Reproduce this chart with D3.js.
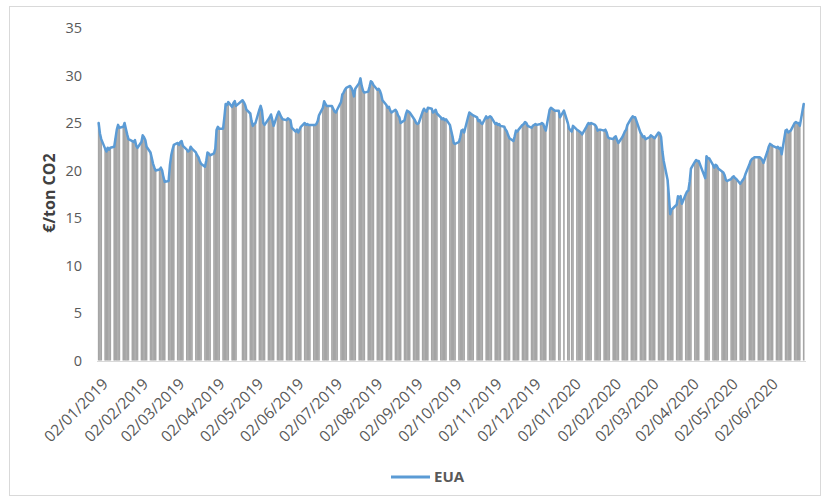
<!DOCTYPE html>
<html>
<head>
<meta charset="utf-8">
<script src="https://cdn.jsdelivr.net/npm/d3@7"></script>
<style>
  body { margin: 0; background: #fff; }
  svg { display: block; }
  text { font-family: "Open Sans", "Liberation Sans", sans-serif; }
</style>
</head>
<body>
<svg id="chart" width="828" height="502"></svg>
<script>
// ---- data ----
const seriesName = "EUA";
const yTitle = "€/ton CO2";
const startDate = "2019-01-02";
const endDate = "2020-06-29";
const yTicks = [0, 5, 10, 15, 20, 25, 30, 35];
// one value per weekday (Mon-Fri) from startDate to endDate; null = market holiday
const prices = [
  25.0, 23.9, 23.3,                 // 2-4 Jan 2019
  22.3, 22.0, 22.4, 22.2, 22.4,     // 7 Jan
  22.5, 23.4, 24.3, 24.8, 24.5,     // 14 Jan
  24.6, 25.0, 24.4, 23.8, 23.3,     // 21 Jan
  23.1, 23.0, 23.2, 22.6, 22.4,     // 28 Jan
  23.0, 23.7, 23.5, 23.2, 22.5,     // 4 Feb
  21.9, 21.3, 20.7, 20.3, 20.0,     // 11 Feb
  20.1, 20.3, 20.0, 19.3, 18.8,     // 18 Feb
  18.9, 20.6, 21.6, 22.2, 22.7,     // 25 Feb
  22.9, 22.7, 23.0, 23.1, 22.6,     // 4 Mar
  22.2, 22.0, 22.1, 22.5, 22.3,     // 11 Mar
  21.9, 21.6, 21.4, 21.0, 20.7,     // 18 Mar
  20.4, 21.0, 21.9, 21.8, 21.6,     // 25 Mar
  21.8, 22.3, 24.3, 24.6, 24.4,     // 1 Apr
  24.4, 25.6, 27.0, 26.9, 27.2,     // 8 Apr
  26.7, 27.1, 27.3, 26.8, null,     // 15 Apr
  null, 27.4, 27.2, 26.9, 26.4,     // 22 Apr
  26.0, 25.2, 24.7, 24.9, 25.0,     // 29 Apr
  26.4, 26.8, 26.3, 25.0, 24.8,     // 6 May
  25.4, 25.6, 25.9, 25.3, 24.7,     // 13 May
  25.9, 26.2, 25.9, 25.6, 25.4,     // 20 May
  25.3, 25.5, 25.4, 25.3, 24.5,     // 27 May
  24.1, 24.3, 24.0, 24.3, 24.6,     // 3 Jun
  25.0, 24.8, 24.9, 24.8, 24.8,     // 10 Jun
  24.8, 24.8, 24.9, 25.2, 25.8,     // 17 Jun
  26.6, 27.3, 27.0, 26.8, 26.8,     // 24 Jun
  26.8, 26.5, 26.2, 26.1, 26.4,     // 1 Jul
  27.2, 28.0, 28.2, 28.5, 28.7,     // 8 Jul
  28.9, 28.7, 28.4, 27.8, 28.6,     // 15 Jul
  29.2, 29.7, 28.9, 28.4, 28.2,     // 22 Jul
  28.3, 28.8, 29.4, 29.3, 29.0,     // 29 Jul
  28.5, 28.6, 28.4, 28.0, 27.4,     // 5 Aug
  26.9, 26.6, 26.7, 26.3, 26.1,     // 12 Aug
  26.4, 26.2, 25.8, 25.6, 25.0,     // 19 Aug
  25.3, 25.9, 26.3, 26.2, 26.1,     // 26 Aug
  25.5, 25.3, 25.0, 24.9, 25.0,     // 2 Sep
  26.2, 26.5, 26.3, 26.2, 26.6,     // 9 Sep
  26.5, 26.1, 26.2, 26.4, 26.0,     // 16 Sep
  25.6, 25.4, 25.5, 25.3, 25.4,     // 23 Sep
  24.8, 24.2, 23.6, 22.9, 22.8,     // 30 Sep
  23.0, 23.5, 24.2, 24.3, 24.0,     // 7 Oct
  25.6, 26.1, 26.0, 25.9, 25.8,     // 14 Oct
  25.6, 25.2, 25.3, 25.0, 24.9,     // 21 Oct
  25.7, 25.5, 25.6, 25.7, 25.6,     // 28 Oct
  24.9, 25.0, 24.8, 24.9, 24.7,     // 4 Nov
  24.6, 24.3, 24.1, 23.7, 23.4,     // 11 Nov
  23.1, 23.6, 24.2, 24.1, 24.3,     // 18 Nov
  24.8, 24.9, 25.1, 25.0, 24.7,     // 25 Nov
  24.5, 24.7, 24.8, 24.9, 24.8,     // 2 Dec
  24.9, 25.0, 24.9, 24.5, 24.2,     // 9 Dec
  26.4, 26.6, 26.5, 26.4, 26.3,     // 16 Dec
  26.3, 25.6, null, null, 26.3,     // 23 Dec
  25.0, 24.4, null, 24.1, 24.7,     // 30 Dec
  24.3, 24.2, 24.1, 24.0, 23.8,     // 6 Jan 2020
  24.5, 24.8, 25.0, 24.9, 25.0,     // 13 Jan
  24.8, 24.6, 24.2, 24.3, 24.3,     // 20 Jan
  24.2, 24.3, 24.0, 23.5, 23.4,     // 27 Jan
  23.3, 23.5, 23.6, 23.2, 22.9,     // 3 Feb
  23.5, 23.8, 24.1, 24.3, 24.8,     // 10 Feb
  25.5, 25.7, 25.6, 25.6, 25.2,     // 17 Feb
  24.0, 23.8, 23.5, 23.6, 23.3,     // 24 Feb
  23.5, 23.7, 23.6, 23.5, 23.4,     // 2 Mar
  24.0, 23.9, 23.5, 22.0, 21.0,     // 9 Mar
  19.0, 17.3, 15.4, 15.9, 16.0,     // 16 Mar
  16.4, 17.3, 17.1, 17.3, 16.5,     // 23 Mar
  17.5, 17.8, 17.9, 18.8, 20.2,     // 30 Mar
  20.9, 21.1, 21.0, 21.0, null,     // 6 Apr
  null, 19.2, 21.5, 21.3, 21.3,     // 13 Apr
  20.6, 20.3, 20.6, 20.5, 20.2,     // 20 Apr
  19.9, 19.8, 19.5, 19.0, 18.9,     // 27 Apr
  19.1, 19.3, 19.4, 19.2, 19.1,     // 4 May
  18.6, 18.8, 19.0, 19.2, 19.6,     // 11 May
  20.6, 21.0, 21.2, 21.3, 21.4,     // 18 May
  21.4, 21.4, 21.3, 21.1, 20.8,     // 25 May
  22.0, 22.5, 22.8, 22.7, 22.6,     // 1 Jun
  22.4, 22.5, 22.3, 22.4, 21.7,     // 8 Jun
  24.2, 24.3, 24.0, 24.1, 24.2,     // 15 Jun
  25.0, 25.1, 25.0, 25.0, 24.7,     // 22 Jun
  27.0                              // 29 Jun
];

// ---- build ----
const parse = d3.utcParse("%Y-%m-%d");
const start = parse(startDate), end = parse(endDate);
const weekdays = d3.utcDay.range(start, d3.utcDay.offset(end, 1))
  .filter(d => d.getUTCDay() > 0 && d.getUTCDay() < 6);
const data = weekdays.map((d, i) => ({ date: d, value: prices[i] }))
  .filter(d => d.value !== null && d.value !== undefined);

const svg = d3.select("#chart");

// outer border
svg.append("rect")
  .attr("x", 9.5).attr("y", 6.5).attr("width", 811).attr("height", 489)
  .attr("fill", "#fff").attr("stroke", "#D9D9D9").attr("stroke-width", 1);

const x = d3.scaleUtc().domain([start, end]).range([98.65, 803.7]);
const y = d3.scaleLinear().domain([0, 35]).range([360.5, 28]);
const dayW = x(d3.utcDay.offset(start, 1)) - x(start);

// bars
svg.append("g").selectAll("rect").data(data).join("rect")
  .attr("x", d => x(d.date) - dayW / 2 - 0.15)
  .attr("width", dayW + 0.3)
  .attr("y", d => y(d.value))
  .attr("height", d => y(0) - y(d.value))
  .attr("fill", "#A5A5A5");

// x axis
const tickDates = d3.utcMonth.range(d3.utcMonth.floor(start), d3.utcMonth.ceil(end))
  .map(m => d3.utcDay.offset(m, 1));
const xAxis = d3.axisBottom(x).tickValues(tickDates).tickSize(0)
  .tickFormat(d3.utcFormat("%d/%m/%Y"));
const gx = svg.append("g").attr("transform", "translate(0,361)").call(xAxis);
gx.select(".domain").attr("stroke", "#D9D9D9").attr("d", "M97,0.5H806");
gx.selectAll("text")
  .attr("x", 0).attr("y", 0).attr("dy", "0.72em")
  .attr("text-anchor", "end")
  .attr("transform", "translate(2,16) rotate(-45)")
  .attr("fill", "#595959")
  .style("font-size", "15.5px");

// y axis
const yAxis = d3.axisLeft(y).tickValues(yTicks).tickSize(0).tickPadding(8);
const gy = svg.append("g").attr("transform", "translate(90,0)").call(yAxis);
gy.select(".domain").remove();
gy.selectAll("text").attr("fill", "#595959").style("font-size", "14.5px");

// y title
svg.append("text")
  .attr("transform", "translate(55,193) rotate(-90)")
  .attr("text-anchor", "middle")
  .attr("fill", "#404040")
  .style("font-size", "16px").style("font-weight", "bold")
  .text(yTitle);

// line
const line = d3.line().x(d => x(d.date)).y(d => y(d.value));
svg.append("path").datum(data)
  .attr("d", line)
  .attr("fill", "none")
  .attr("stroke", "#5B9BD5")
  .attr("stroke-width", 2.5)
  .attr("stroke-linejoin", "round")
  .attr("stroke-linecap", "round");

// legend
svg.append("line")
  .attr("x1", 391).attr("x2", 430).attr("y1", 477).attr("y2", 477)
  .attr("stroke", "#5B9BD5").attr("stroke-width", 3);
svg.append("text")
  .attr("x", 434).attr("y", 477).attr("dy", "0.35em")
  .attr("fill", "#595959")
  .style("font-size", "15px").style("font-weight", "bold")
  .text(seriesName);
</script>
</body>
</html>
